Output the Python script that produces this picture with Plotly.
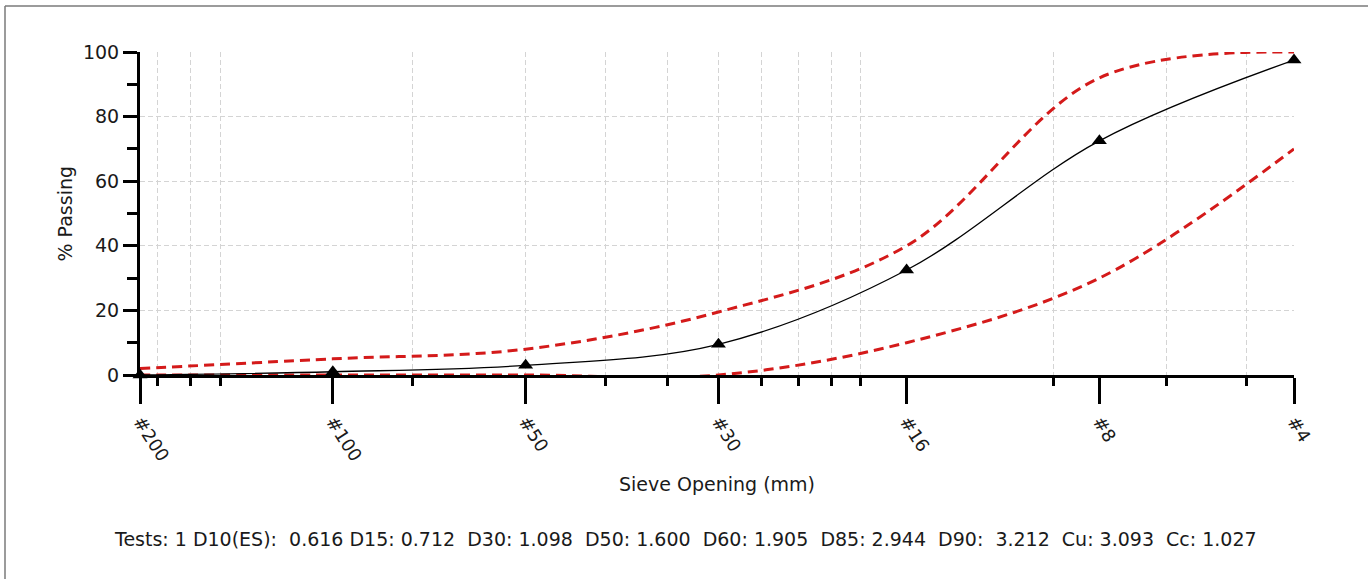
import math
import plotly.graph_objects as go

# ---- data ----
sieve_labels = ["#200", "#100", "#50", "#30", "#16", "#8", "#4"]
sieve_mm = [0.075, 0.15, 0.3, 0.6, 1.18, 2.36, 4.75]
pct_passing = [0, 1, 3, 9.5, 32.5, 72.5, 97.5]
upper_limit = [2, 5, 8, 19.5, 40, 92, 100]
lower_limit = [0, 0, 0, 0, 10, 30, 70]
grid_mm = [0.08, 0.09, 0.1, 0.2, 0.3, 0.4, 0.5, 0.6, 0.7, 0.8, 0.9, 1, 2, 3, 4]
y_major = [0, 20, 40, 60, 80, 100]
y_minor = [10, 30, 50, 70, 90]

stat_names = ["D10(ES):", "D15:", "D30:", "D50:", "D60:", "D85:", "D90:", "Cu:", "Cc:"]
stat_values = ["0.616", "0.712", "1.098", "1.600", "1.905", "2.944", "3.212", "3.093", "1.027"]
n_tests = 1

FONT = "DejaVu Sans, Liberation Sans, Arial, sans-serif"
TXT = "#1a1a1a"
RED = "#d41a1a"
GRID = "#d4d4d4"

W, H = 1368, 579
L, R, T, B = 140, 74, 52, 204
pw, ph = W - L - R, H - T - B

xr = [math.log10(sieve_mm[0]), math.log10(sieve_mm[-1])]

fig = go.Figure()

fig.add_trace(go.Scatter(
    x=sieve_mm, y=upper_limit, mode="lines",
    line=dict(color=RED, width=3, dash="10px,6px", shape="spline", smoothing=1),
    showlegend=False, hoverinfo="skip"))
fig.add_trace(go.Scatter(
    x=sieve_mm, y=lower_limit, mode="lines",
    line=dict(color=RED, width=3, dash="10px,6px", shape="spline", smoothing=1),
    showlegend=False, hoverinfo="skip"))
fig.add_trace(go.Scatter(
    x=sieve_mm, y=pct_passing, mode="lines+markers",
    line=dict(color="black", width=1.3, shape="spline", smoothing=1),
    marker=dict(symbol="triangle-up", size=13, color="black"),
    cliponaxis=False, showlegend=False))
# invisible helper trace so the minor-grid axis is drawn
fig.add_trace(go.Scatter(
    x=[grid_mm[0]], y=[50], xaxis="x2", mode="markers",
    marker=dict(opacity=0), showlegend=False, hoverinfo="skip"))

parts = []
for i, (n, v) in enumerate(zip(stat_names, stat_values)):
    sep = "\u00a0\u00a0" if n in ("D10(ES):", "D90:") else "\u00a0"
    parts.append(n + sep + v)
footer = "Tests:\u00a0" + str(n_tests) + " " + parts[0] + " " + "\u00a0\u00a0".join(parts[1:])


def px_x(p):
    return (p - L) / pw


def px_y(p):
    return (T + ph - p) / ph


fig.update_layout(
    width=W, height=H,
    margin=dict(l=L, r=R, t=T, b=B, pad=0),
    paper_bgcolor="white", plot_bgcolor="white",
    font=dict(family=FONT, size=19, color=TXT),
    xaxis=dict(
        type="log", range=xr, tickmode="array", tickvals=sieve_mm, ticktext=sieve_labels,
        ticks="outside", ticklen=26, tickwidth=3, tickcolor="black",
        showline=True, linewidth=3, linecolor="black", showgrid=False, zeroline=False,
        tickangle=57, tickfont=dict(family=FONT, size=18, color=TXT)),
    xaxis2=dict(
        type="log", range=xr, overlaying="x", anchor="y", side="bottom",
        tickmode="array", tickvals=grid_mm, ticks="outside", ticklen=10, tickwidth=3,
        tickcolor="black", showticklabels=False, showline=False, zeroline=False,
        showgrid=True, gridcolor=GRID, griddash="5px,3px", gridwidth=1),
    yaxis=dict(
        range=[0, 100], tickmode="array", tickvals=y_major,
        ticks="outside", ticklen=14, tickwidth=3, tickcolor="black",
        showline=True, linewidth=3, linecolor="black", zeroline=False,
        showgrid=True, gridcolor=GRID, griddash="5px,3px", gridwidth=1,
        tickfont=dict(family=FONT, size=19, color=TXT),
        minor=dict(tickmode="array", tickvals=y_minor, ticks="outside", ticklen=10,
                   tickwidth=3, tickcolor="black", showgrid=False)),
    annotations=[
        dict(text="Sieve Opening (mm)", xref="paper", yref="paper",
             x=0.5, y=px_y(484), xanchor="center", yanchor="middle",
             showarrow=False, font=dict(family=FONT, size=19, color=TXT)),
        dict(text="% Passing", xref="paper", yref="paper",
             x=px_x(64), y=0.5, xanchor="center", yanchor="middle", textangle=-90,
             showarrow=False, font=dict(family=FONT, size=19, color=TXT)),
        dict(text=footer, xref="paper", yref="paper",
             x=px_x(685), y=px_y(539), xanchor="center", yanchor="middle",
             showarrow=False, font=dict(family=FONT, size=19, color=TXT)),
    ],
    shapes=[
        dict(type="line", xref="paper", yref="paper", x0=px_x(5), x1=px_x(1380),
             y0=px_y(6), y1=px_y(6), line=dict(color="#7a7a7a", width=1.5)),
        dict(type="line", xref="paper", yref="paper", x0=px_x(5), x1=px_x(5),
             y0=px_y(6), y1=px_y(590), line=dict(color="#7a7a7a", width=1.5)),
    ],
)

fig.write_html("out.html",
               config={"displayModeBar": False},
               post_script="document.body.style.margin='0';document.body.style.overflow='hidden';")
